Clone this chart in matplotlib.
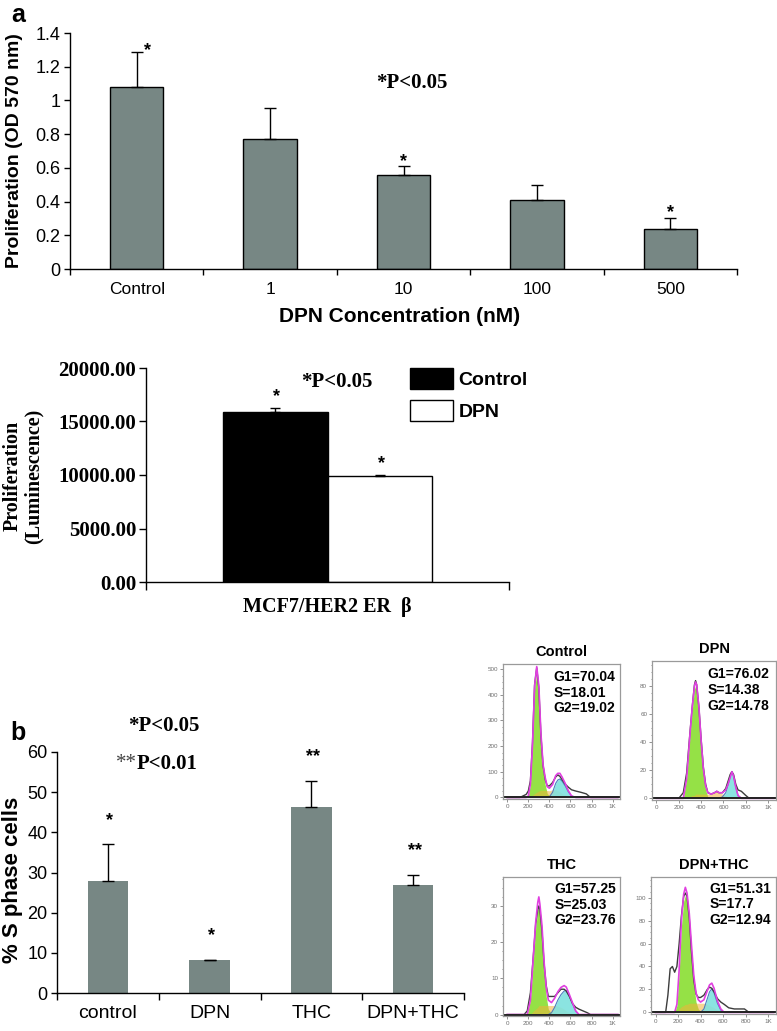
import matplotlib
matplotlib.use('Agg')
import matplotlib.pyplot as plt
import numpy as np
from matplotlib.patches import Patch

W, H = 777, 1031
SANS = ['Liberation Sans', 'DejaVu Sans']
SERIF = ['Liberation Serif', 'DejaVu Serif']
plt.rcParams['font.family'] = SANS

# ---------------- data ----------------
# panel a
a_categories = ['Control', '1', '10', '100', '500']
a_values = [1.08, 0.77, 0.556, 0.407, 0.239]
a_errors = [0.207, 0.188, 0.053, 0.091, 0.064]
a_stars = ['*', '', '*', '', '*']
a_yticks = [0, 0.2, 0.4, 0.6, 0.8, 1.0, 1.2, 1.4]
a_yticklabels = ['0', '0.2', '0.4', '0.6', '0.8', '1', '1.2', '1.4']

# luminescence panel
lum_groups = ['Control', 'DPN']
lum_values = [15900, 9930]
lum_errors = [360, 50]
lum_category = 'MCF7/HER2 ER  β'
lum_yticks = [0, 5000, 10000, 15000, 20000]

# panel b
b_categories = ['control', 'DPN', 'THC', 'DPN+THC']
b_values = [27.8, 8.1, 46.3, 26.9]
b_errors = [9.2, 0.2, 6.5, 2.6]
b_stars = ['*', '*', '**', '**']
b_yticks = [0, 10, 20, 30, 40, 50, 60]

# flow cytometry histograms
hist_names = ['Control', 'DPN', 'THC', 'DPN+THC']
g1_pct = [70.04, 76.02, 57.25, 51.31]
s_pct = [18.01, 14.38, 25.03, 17.7]
g2_pct = [19.02, 14.78, 23.76, 12.94]
hist_xticks = [0, 200, 400, 600, 800, 1000]
hist_xticklabels = ['0', '200', '400', '600', '800', '1K']

ctrl_ch = [0, 120, 180, 200, 220, 240, 260, 280, 300, 320, 340, 360, 380, 400, 430, 460, 480, 500, 520, 550, 580, 610, 650, 700, 750, 790, 1050]
ctrl_data = [0, 0, 12, 25, 65, 215, 440, 505, 425, 240, 125, 70, 45, 45, 58, 80, 88, 82, 70, 52, 40, 30, 25, 20, 14, 0, 0]
ctrl_g1 = [0, 0, 0, 5, 50, 200, 420, 490, 410, 220, 100, 50, 15, 8, 0, 0, 0, 0, 0, 0, 0, 0, 0, 0, 0, 0, 0]
ctrl_s = [0, 0, 0, 0, 2, 8, 15, 20, 25, 28, 28, 28, 27, 26, 30, 30, 26, 22, 16, 10, 4, 0, 0, 0, 0, 0, 0]
ctrl_g2 = [0, 0, 0, 0, 0, 0, 0, 0, 0, 0, 0, 0, 0, 2, 20, 55, 68, 72, 64, 45, 22, 6, 0, 0, 0, 0, 0]
ctrl_yticks = [0, 100, 200, 300, 400, 500]

dpn_ch = [0, 200, 240, 270, 300, 320, 340, 350, 360, 380, 400, 420, 440, 460, 490, 520, 540, 560, 590, 620, 640, 660, 675, 690, 710, 730, 760, 800, 830, 1050]
dpn_data = [0, 0, 4, 18, 47, 65, 81, 84, 81, 65, 42, 22, 10, 4, 3, 4, 5, 4, 4, 7, 12, 17, 19, 17, 10, 6, 5, 2, 0, 0]
dpn_g1 = [0, 0, 0, 14, 45, 63, 78, 80, 78, 62, 38, 18, 6, 1, 0, 0, 0, 0, 0, 0, 0, 0, 0, 0, 0, 0, 0, 0, 0, 0]
dpn_s = [0, 0, 0, 0, 1, 2, 2, 3, 3, 3, 3, 3, 3, 3, 3, 4, 5, 4, 3, 2, 1, 0, 0, 0, 0, 0, 0, 0, 0, 0]
dpn_g2 = [0, 0, 0, 0, 0, 0, 0, 0, 0, 0, 0, 0, 0, 0, 0, 0, 0, 0, 1, 4, 9, 15, 19, 16, 8, 2, 0, 0, 0, 0]
dpn_yticks = [0, 20, 40, 60, 80]

thc_ch = [0, 160, 190, 220, 250, 270, 290, 300, 310, 330, 350, 370, 390, 420, 450, 480, 510, 540, 560, 590, 620, 650, 680, 720, 760, 790, 1050]
thc_data = [0, 0, 1, 6, 17, 25, 29, 30, 29, 23, 14, 8, 5, 5, 5, 6, 7, 7, 6.5, 5, 3, 2, 1.5, 1, 0.5, 0, 0]
thc_g1 = [0, 0, 0, 4, 16, 24, 29, 30, 28, 22, 12, 5, 1.5, 0.3, 0, 0, 0, 0, 0, 0, 0, 0, 0, 0, 0, 0, 0]
thc_s = [0, 0, 0, 0, 1, 1.5, 2, 2.5, 2.5, 2.5, 2.5, 2.5, 2.5, 2.5, 2.5, 2.3, 2, 1.5, 1, 0.5, 0.2, 0, 0, 0, 0, 0, 0]
thc_g2 = [0, 0, 0, 0, 0, 0, 0, 0, 0, 0, 0, 0, 0, 0.5, 2, 4, 5.5, 6.5, 6.6, 5, 3, 1, 0, 0, 0, 0, 0]
thc_yticks = [0, 10, 20, 30]

dt_ch = [0, 90, 110, 130, 150, 170, 190, 210, 230, 250, 265, 280, 300, 320, 340, 360, 380, 400, 430, 460, 480, 500, 520, 550, 580, 610, 650, 700, 750, 790, 830, 1050]
dt_data = [0, 0, 15, 38, 40, 35, 40, 60, 84, 101, 104, 101, 82, 52, 28, 16, 13, 13, 15, 20, 22, 21, 18, 12, 9, 7, 4, 3, 3, 3, 0, 0]
dt_g1 = [0, 0, 0, 0, 0, 0, 6, 34, 75, 97, 102, 97, 78, 50, 24, 9, 3, 1, 0, 0, 0, 0, 0, 0, 0, 0, 0, 0, 0, 0, 0, 0]
dt_s = [0, 0, 0, 0, 0, 0, 1, 3, 5, 6, 7, 7, 8, 8, 8, 8, 8, 8, 8, 7, 6, 5, 4, 2, 1, 0, 0, 0, 0, 0, 0, 0]
dt_g2 = [0, 0, 0, 0, 0, 0, 0, 0, 0, 0, 0, 0, 0, 0, 0, 0, 0, 0, 3, 12, 18, 20.5, 17, 8, 2, 0, 0, 0, 0, 0, 0, 0]
dt_yticks = [0, 20, 40, 60, 80, 100]

# ---------------- figure ----------------
fig = plt.figure(figsize=(W / 100, H / 100), dpi=100)


def fbox(l, t, r, b):
    return [l / W, 1 - b / H, (r - l) / W, (b - t) / H]


def fpt(x, y):
    return (x / W, 1 - y / H)


BAR = '#778784'


def style_axes(ax):
    ax.spines['top'].set_visible(False)
    ax.spines['right'].set_visible(False)
    for s in ('left', 'bottom'):
        ax.spines[s].set_linewidth(1.0)


def star(ax, x, y, s, dx, dy, size):
    ax.annotate(s, xy=(x, y), xytext=(dx, dy), textcoords='offset points',
                ha='center', va='baseline', fontsize=size, weight='bold')


# ---------- panel a ----------
axa = fig.add_axes(fbox(70, 33, 737, 269))
xa = np.arange(len(a_categories))
axa.bar(xa, a_values, width=0.4, color=BAR, edgecolor='black', linewidth=1.0,
        yerr=[np.zeros(len(a_values)), a_errors],
        error_kw=dict(ecolor='black', elinewidth=1.0, capsize=4.5, capthick=1.0))
axa.set_xlim(-0.5, len(a_categories) - 0.5)
axa.set_ylim(0, 1.4)
style_axes(axa)
axa.set_yticks(a_yticks)
axa.set_yticklabels(a_yticklabels)
axa.tick_params(axis='y', direction='out', length=4, width=1, labelsize=13, pad=3)
axa.set_xticks(np.arange(-0.5, len(a_categories), 1.0))
axa.set_xticklabels([])
axa.tick_params(axis='x', which='major', direction='out', length=4, width=1)
axa.set_xticks(xa, minor=True)
axa.set_xticklabels(a_categories, minor=True)
axa.tick_params(axis='x', which='minor', length=0, labelsize=12.5, pad=9)
for i, s in enumerate(a_stars):
    if s:
        top = a_values[i] + a_errors[i]
        dx = 8 if i == 0 else 0
        dy = -2.5 if i == 0 else 0.5
        star(axa, xa[i], top, s, dx, dy, 13)
fig.text(*fpt(18, 15), 'a', fontsize=18, weight='bold', ha='center', va='center')
fig.text(*fpt(15, 151), 'Proliferation (OD 570 nm)', rotation=90, fontsize=14,
         weight='bold', ha='center', va='center')
fig.text(*fpt(400, 316), 'DPN Concentration (nM)', fontsize=15, weight='bold',
         ha='center', va='center')
fig.text(*fpt(412, 83), '*P<0.05', fontsize=15, weight='bold', family=SERIF,
         ha='center', va='center')

# ---------- luminescence panel ----------
axl = fig.add_axes(fbox(146, 368, 509, 582))
bw = 0.288
lx = [0.5 - bw / 2, 0.5 + bw / 2]
lum_colors = ['black', 'white']
for i in range(len(lum_groups)):
    axl.bar(lx[i], lum_values[i], width=bw, color=lum_colors[i], edgecolor='black',
            linewidth=1.0, yerr=[[0], [lum_errors[i]]],
            error_kw=dict(ecolor='black', elinewidth=1.0, capsize=3.5, capthick=1.0),
            label=lum_groups[i])
axl.set_xlim(0, 1)
axl.set_ylim(0, 20000)
style_axes(axl)
axl.set_yticks(lum_yticks)
axl.set_yticklabels(['%.2f' % v for v in lum_yticks], family=SERIF, weight='bold')
axl.tick_params(axis='y', direction='out', length=5, width=1, labelsize=15, pad=2)
axl.set_xticks([0, 1])
axl.set_xticklabels([])
axl.tick_params(axis='x', which='major', direction='out', length=6, width=1)
axl.set_xticks([0.5], minor=True)
axl.set_xticklabels([lum_category], minor=True, family=SERIF, weight='bold')
axl.tick_params(axis='x', which='minor', length=0, labelsize=14.5, pad=11)
for i in range(len(lum_groups)):
    star(axl, lx[i], lum_values[i] + lum_errors[i], '*', 1, 5, 13)
fig.text(*fpt(23, 476), 'Proliferation\n(Luminescence)', rotation=90, fontsize=14.5,
         weight='bold', family=SERIF, ha='center', va='center', linespacing=1.1,
         multialignment='center')
fig.text(*fpt(337, 382), '*P<0.05', fontsize=15, weight='bold', family=SERIF,
         ha='center', va='center')
handles = [Patch(facecolor=c, edgecolor='black', linewidth=1.0) for c in lum_colors]
axl.legend(handles, lum_groups, loc='upper left', bbox_to_anchor=fpt(410, 368),
           bbox_transform=fig.transFigure, frameon=False, borderpad=0, borderaxespad=0,
           handlelength=2.2, handleheight=1.25, handletextpad=0.3, labelspacing=0.6,
           prop=dict(family=SANS, weight='bold', size=14))

# ---------- panel b ----------
axb = fig.add_axes(fbox(57, 752, 464, 993))
xb = np.arange(len(b_categories))
axb.bar(xb, b_values, width=0.4, color=BAR, edgecolor='none',
        yerr=[np.zeros(len(b_values)), b_errors],
        error_kw=dict(ecolor='black', elinewidth=1.0, capsize=4.5, capthick=1.0))
axb.set_xlim(-0.5, len(b_categories) - 0.5)
axb.set_ylim(0, 60)
style_axes(axb)
axb.set_yticks(b_yticks)
axb.tick_params(axis='y', direction='out', length=4, width=1, labelsize=13, pad=3)
axb.set_xticks(np.arange(-0.5, len(b_categories), 1.0))
axb.set_xticklabels([])
axb.tick_params(axis='x', which='major', direction='out', length=5, width=1)
axb.set_xticks(xb, minor=True)
axb.set_xticklabels(b_categories, minor=True)
axb.tick_params(axis='x', which='minor', length=0, labelsize=14, pad=9)
for i, s in enumerate(b_stars):
    star(axb, xb[i], b_values[i] + b_errors[i], s, 1, 14, 13)
fig.text(*fpt(18, 733), 'b', fontsize=18, weight='bold', ha='center', va='center')
fig.text(*fpt(13, 880), '% S phase cells', rotation=90, fontsize=16, weight='bold',
         ha='center', va='center')
fig.text(*fpt(164, 726), '*P<0.05', fontsize=15, weight='bold', family=SERIF,
         ha='center', va='center')
fig.text(*fpt(137, 764), '**', fontsize=15, family=SERIF, color='#444444',
         ha='right', va='center')
fig.text(*fpt(137, 764), 'P<0.01', fontsize=15, weight='bold', family=SERIF,
         ha='left', va='center')

# ---------- flow cytometry histograms ----------
G1C = '#8fe03c'
SC = '#f2b23a'
G2C = '#7fe2de'
FITC = '#e040e0'

hist_boxes = [(503, 664, 620, 799), (652, 661, 776, 800),
              (503, 877, 620, 1016), (651, 877, 776, 1014)]
hist_ylims = [(-6, 520), (-1.2, 98), (-0.4, 38), (-1.4, 118)]
hist_series = [(ctrl_ch, ctrl_data, ctrl_g1, ctrl_s, ctrl_g2, ctrl_yticks),
               (dpn_ch, dpn_data, dpn_g1, dpn_s, dpn_g2, dpn_yticks),
               (thc_ch, thc_data, thc_g1, thc_s, thc_g2, thc_yticks),
               (dt_ch, dt_data, dt_g1, dt_s, dt_g2, dt_yticks)]
text_pos = [(0.43, 0.955), (0.45, 0.955), (0.44, 0.965), (0.47, 0.965)]

for k in range(4):
    ch, dat, g1, s, g2, yt = hist_series[k]
    ax = fig.add_axes(fbox(*hist_boxes[k]))
    ax.fill_between(ch, 0, g1, color=G1C, lw=0, alpha=0.95)
    ax.fill_between(ch, 0, s, color=SC, lw=0, alpha=0.55)
    ax.fill_between(ch, 0, g2, color=G2C, lw=0, alpha=0.9)
    ax.plot(ch, g2, color='#4a7fc0', lw=0.8)
    ax.plot(ch, dat, color='#3c3c3c', lw=1.0)
    fit = np.array(g1) + np.array(s) + np.array(g2)
    ax.plot(ch, fit, color=FITC, lw=1.2)
    ax.plot([-100, 1100], [0, 0], color='#222222', lw=1.4)
    ax.set_xlim(-40, 1070)
    ax.set_ylim(*hist_ylims[k])
    for sp in ax.spines.values():
        sp.set_color('#9a9a9a')
        sp.set_linewidth(0.9)
    ax.set_xticks(hist_xticks)
    ax.set_xticklabels(hist_xticklabels)
    ax.set_yticks(yt)
    step = (yt[1] - yt[0]) / 4
    ax.set_yticks(np.arange(0, hist_ylims[k][1], step), minor=True)
    ax.tick_params(which='both', direction='out', length=2, width=0.6, colors='#808080',
                   labelsize=4.5, pad=1.5, labelcolor='#707070')
    ax.tick_params(which='minor', length=1)
    ax.set_title(hist_names[k], fontsize=10.5, weight='bold', pad=6)
    ax.text(text_pos[k][0], text_pos[k][1],
            'G1=%s\nS=%s\nG2=%s' % (g1_pct[k], s_pct[k], g2_pct[k]),
            transform=ax.transAxes, ha='left', va='top', fontsize=10, weight='bold',
            linespacing=1.15)

fig.savefig('out.png', dpi=100)
